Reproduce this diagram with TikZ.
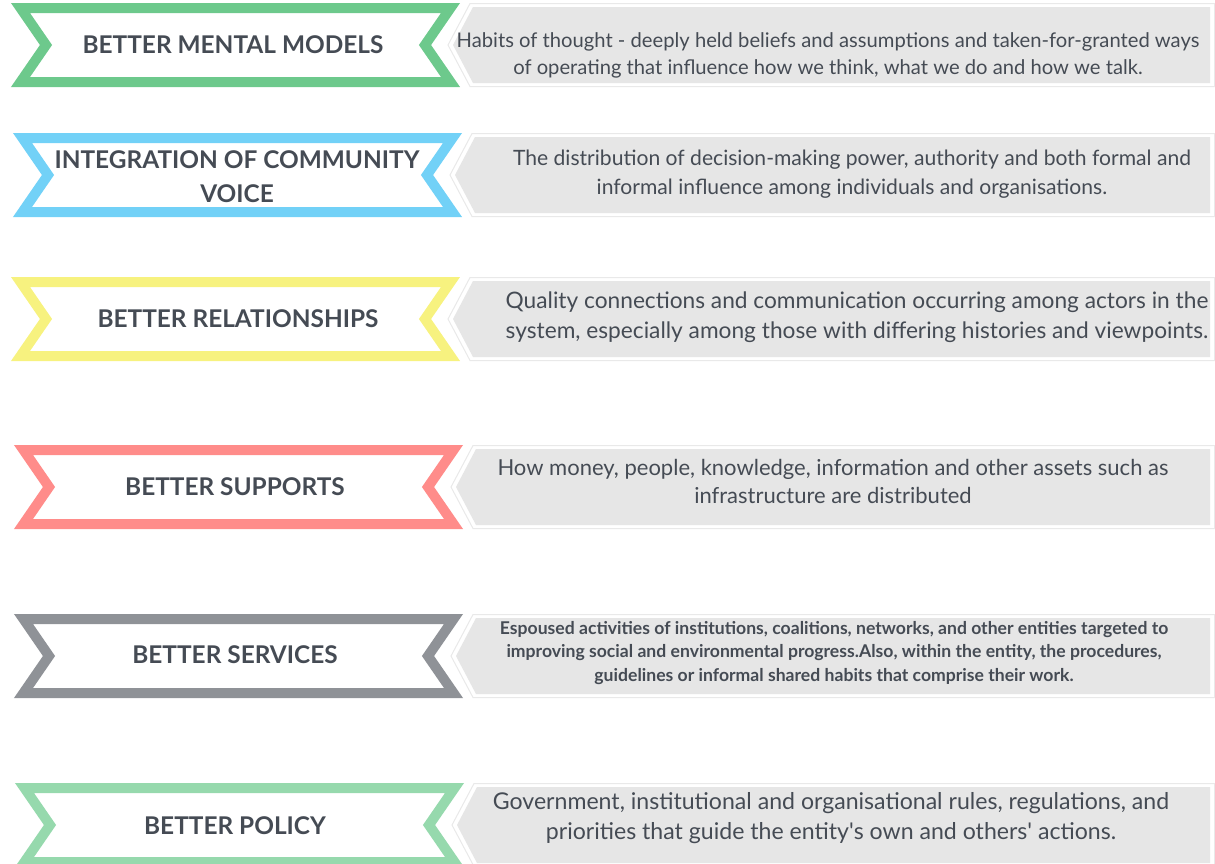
\documentclass[tikz,border=0pt]{standalone}
\usepackage{fontspec}
\setmainfont{Lato}
\definecolor{txtdark}{HTML}{454B54}
\definecolor{greenA}{HTML}{6DC98C}
\definecolor{blueA}{HTML}{72D1F7}
\definecolor{yellowA}{HTML}{F7F27F}
\definecolor{redA}{HTML}{FF8C8A}
\definecolor{grayA}{HTML}{8F9297}
\definecolor{greenB}{HTML}{96D9AD}
\definecolor{descfill}{HTML}{E6E6E6}
\definecolor{descline}{HTML}{E9E9E9}

\begin{document}
\begin{tikzpicture}[x=1pt, y=-1pt,
  banner/.style={line width=10pt, line join=miter},
  label/.style={text=txtdark, font=\fontsize{24.4}{34}\selectfont\bfseries, align=center},
  desc/.style args={#1/#2}{text=txtdark, font=\fontsize{#1}{#2}\selectfont, align=center},
  descsmall/.style={text=txtdark, font=\fontsize{17.6}{23.5}\selectfont\bfseries, align=center}]
\useasboundingbox (0,0) rectangle (1215,863);
\clip (0,0) rectangle (1215,863);

% ribbons and grey arrows
\foreach \l/\t/\c in {11/3/greenA, 13/133/blueA, 11/277/yellowA, 14/445/redA, 14/614/grayA, 15/783/greenB}{
  \draw[banner, draw=\c] ({\l+9.5},{\t+5}) -- ({\l+439.5},{\t+5}) -- ({\l+414},{\t+42})
    -- ({\l+439.5},{\t+79}) -- ({\l+9.5},{\t+79}) -- ({\l+35},{\t+42}) -- cycle;
  \draw[descline, fill=white, line width=1pt] ({\l+437},{\t+42}) -- ({\l+459},{\t+0.5})
    -- (1214.5,{\t+0.5}) -- (1214.5,{\t+83.5}) -- ({\l+459},{\t+83.5}) -- cycle;
  \fill[descfill] ({\l+442},{\t+42}) -- ({\l+462},{\t+4}) -- (1210,{\t+4})
    -- (1210,{\t+80}) -- ({\l+462},{\t+80}) -- cycle;
}

% ribbon labels
\node[label] (mental)   at (233,45)  {BETTER MENTAL MODELS};
\node[label] (voice)    at (237,177) {INTEGRATION OF COMMUNITY\\VOICE};
\node[label] (relation) at (238,319) {BETTER RELATIONSHIPS};
\node[label] (supports) at (235,487) {BETTER SUPPORTS};
\node[label] (services) at (235,655) {BETTER SERVICES};
\node[label] (policy)   at (235,826) {BETTER POLICY};

% descriptions
\node[desc=20.2/27] (mental-desc) at (828,55) {Habits of thought - deeply held beliefs and assumptions and taken-for-granted ways\\of operating that influence how we think, what we do and how we talk.};
\node[desc=21.1/29] (voice-desc) at (852,174) {The distribution of decision-making power, authority and both formal and\\informal influence among individuals and organisations.};
\node[desc=22.7/30] (relation-desc) at (857,317) {Quality connections and communication occurring among actors in the\\system, especially among those with differing histories and viewpoints.};
\node[desc=22/28] (supports-desc) at (833,481) {How money, people, knowledge, information and other assets such as\\infrastructure are distributed};
\node[descsmall] (services-desc) at (834,653) {Espoused activities of institutions, coalitions, networks, and other entities targeted to\\improving social and environmental progress.Also, within the entity, the procedures,\\guidelines or informal shared habits that comprise their work.};
\node[desc=23.1/30] (policy-desc) at (831,818) {Government, institutional and organisational rules, regulations, and\\priorities that guide the entity\textquotesingle s own and others\textquotesingle{} actions.};
\end{tikzpicture}
\end{document}
